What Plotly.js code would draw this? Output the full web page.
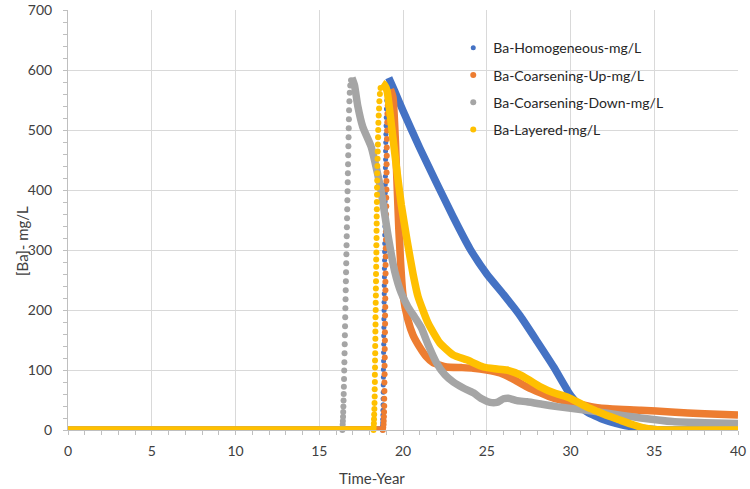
<!DOCTYPE html>
<html>
<head>
<meta charset="utf-8">
<script src="https://cdn.plot.ly/plotly-3.0.1.min.js"></script>
<style>html,body{margin:0;padding:0;background:#fff;}#chart{width:750px;height:489px;}</style>
</head>
<body>
<div id="chart"></div>
<script>
// ---- Series names & colours ----
const seriesNames = ["Ba-Homogeneous-mg/L", "Ba-Coarsening-Up-mg/L", "Ba-Coarsening-Down-mg/L", "Ba-Layered-mg/L"];
const seriesColors = ["#4472C4", "#ED7D31", "#A5A5A5", "#FFC000"];

// ---- Ba-Homogeneous ----
const homRiseT = [18.76,18.77,18.78,18.79,18.79,18.80,18.80,18.81,18.81,18.82,
  18.82,18.83,18.83,18.84,18.84,18.85,18.85,18.86,18.86,18.87,
  18.87,18.88,18.88,18.89,18.89,18.90,18.90,18.91,18.91,18.92,
  18.92,18.93,18.93,18.94,18.94,18.95,18.95,18.96,18.96,18.97,
  18.98,18.99,19.00,19.01,19.03,19.05,19.08];
const homRiseV = [0,3,7,12,18,25,33,42,52,63,75,88,101,115,129,143,157,171,185,199,
  213,227,241,255,269,283,297,311,325,339,353,367,381,395,409,423,437,451,465,479,
  493,507,521,535,549,563,575];
const homFallT = [19.15,19.5,20,21,22,23,24,25,26,27,28,29,30,30.5,31,32,33,34,35,36,40];
const homFallV = [587,565,532,470,412,355,302,260,226,190,148,105,58,42,30,17,9,4,1,0,0];

// ---- Ba-Coarsening-Up ----
const cupRiseT = [18.80,18.82,18.84,18.85,18.86,18.87,18.88,18.88,18.89,18.89,
  18.90,18.90,18.91,18.91,18.92,18.92,18.93,18.93,18.94,18.94,
  18.95,18.95,18.96,18.96,18.97,18.97,18.98,18.98,18.99,18.99,
  19.00,19.00,19.01,19.01,19.02,19.02,19.03,19.03,19.04,19.05,
  19.06,19.07,19.09,19.12,19.16];
const cupRiseV = [0,4,9,15,22,30,40,52,65,79,93,107,121,135,149,163,177,191,205,219,
  233,247,261,275,289,303,317,331,345,359,373,387,401,415,429,443,457,471,485,499,
  513,527,541,553,562];
const cupFallT = [19.25,19.4,19.55,19.75,20.0,20.3,20.6,21.0,21.4,21.8,22.6,23.5,24.2,25.0,25.8,26.5,27.4,28.2,29.0,30.2,31.4,32.5,34.2,36.0,38.0,40.0];
const cupFallV = [568,555,480,335,225,183,158,138,122,112,105,104,103,100,95,86,72,62,53,45,38,35,33,30,27,25];

// ---- Ba-Coarsening-Down ----
const cdnRiseT = [16.38,16.39,16.40,16.41,16.42,16.43,16.44,16.45,16.46,16.47,
  16.48,16.49,16.50,16.51,16.52,16.53,16.54,16.55,16.56,16.57,
  16.58,16.59,16.60,16.61,16.62,16.63,16.64,16.65,16.66,16.67,
  16.68,16.69,16.70,16.71,16.72,16.73,16.74,16.75,16.76,16.77,
  16.78,16.80,16.82,16.85,16.90];
const cdnRiseV = [0,4,9,15,22,30,39,49,60,72,85,99,113,128,143,158,173,188,203,218,
  233,248,263,278,293,308,323,338,353,368,383,398,413,428,443,458,473,488,503,518,
  533,548,562,574,583];
const cdnFallT = [16.95,17.1,17.3,17.6,18.1,18.65,19.1,19.5,19.9,20.3,20.7,21.1,21.5,22.0,22.5,23.0,23.6,24.2,24.7,25.2,25.6,26.0,26.3,26.8,27.4,28.3,29.2,30.6,32.2,34.2,36.1,38.0,40.0];
const cdnFallV = [587,575,540,505,472,405,325,265,228,205,188,170,142,112,92,80,70,62,52,46,46,52,53,49,47,43,39,34,28,20,14,12,11];

// ---- Ba-Layered ----
const layRiseT = [18.24,18.25,18.26,18.27,18.28,18.29,18.30,18.31,18.31,18.32,
  18.32,18.33,18.33,18.34,18.34,18.35,18.35,18.36,18.36,18.37,
  18.37,18.38,18.38,18.39,18.39,18.40,18.40,18.41,18.41,18.42,
  18.42,18.43,18.43,18.44,18.44,18.45,18.45,18.46,18.46,18.47,
  18.48,18.49,18.50,18.51,18.52,18.53,18.55,18.57,18.59,18.62,18.66];
const layRiseV = [0,5,11,18,26,35,45,56,68,80,92,104,116,128,140,152,164,176,188,200,
  212,224,236,248,260,272,284,296,308,320,332,344,356,368,380,392,404,416,428,440,
  452,464,476,488,500,512,524,536,548,560,570];
const layFallT = [18.76,18.9,19.05,19.3,19.6,19.9,20.25,20.6,20.9,21.5,22.2,23.0,23.8,24.8,25.5,26.2,27.0,27.6,28.2,29.0,29.8,30.4,31.0,31.6,32.2,32.9,33.6,34.3,35,36,40];
const layFallV = [578,575,565,510,440,375,315,260,222,178,145,125,117,105,102,100,92,82,72,62,55,47,38,31,24,17,10,4,1,0,0];

// ---- Axis ticks ----
const xTickVals = [0,5,10,15,20,25,30,35,40];
const yTickVals = [0,100,200,300,400,500,600,700];

const data = [
  [homRiseT, homRiseV, homFallT, homFallV, 5],
  [cupRiseT, cupRiseV, cupFallT, cupFallV, 6],
  [cdnRiseT, cdnRiseV, cdnFallT, cdnFallV, 6],
  [layRiseT, layRiseV, layFallT, layFallV, 6]
];

const traces = [];
data.forEach((d, i) => {
  const [rt, rv, ft, fv, ms] = d;
  const name = seriesNames[i], color = seriesColors[i];
  traces.push({x: [0, rt[0]], y: [0, 0], mode: 'lines', line: {color: color, width: 7.5},
    showlegend: false, legendgroup: name, hoverinfo: 'skip', cliponaxis: false});
  traces.push({x: rt, y: rv, mode: 'markers', marker: {color: color, size: ms},
    name: name, legendgroup: name, cliponaxis: false});
  traces.push({x: ft, y: fv, mode: 'lines', line: {color: color, width: 7.5, shape: 'spline', smoothing: 0.5},
    showlegend: false, legendgroup: name, cliponaxis: false});
});

const font = "Lato, 'Liberation Sans', sans-serif";
const layout = {
  width: 750, height: 489,
  margin: {l: 68, r: 12, t: 10, b: 59},
  paper_bgcolor: '#ffffff', plot_bgcolor: '#ffffff',
  font: {family: font, size: 14, color: '#404040'},
  showlegend: true,
  legend: {x: 0.575, y: 0.947, xanchor: 'left', yanchor: 'top', bgcolor: 'rgba(0,0,0,0)',
    font: {family: font, size: 14, color: '#262626'}, traceorder: 'grouped', tracegroupgap: 6},
  xaxis: {range: [0, 40], tickvals: xTickVals, ticktext: xTickVals.map(String),
    showgrid: true, gridcolor: '#d9d9d9', gridwidth: 1, zeroline: false,
    showline: true, linecolor: '#bfbfbf', linewidth: 1,
    ticks: 'outside', ticklen: 4, tickcolor: '#bfbfbf',
    minor: {dtick: 1, ticks: 'outside', ticklen: 4, tickcolor: '#bfbfbf', showgrid: false},
    tickfont: {family: font, size: 14, color: '#404040'}, ticklabelstandoff: 4, fixedrange: true},
  yaxis: {range: [0, 700], tickvals: yTickVals, ticktext: yTickVals.map(String),
    showgrid: true, gridcolor: '#d9d9d9', gridwidth: 1, zeroline: false,
    showline: true, linecolor: '#bfbfbf', linewidth: 1,
    ticks: 'outside', ticklen: 4, tickcolor: '#bfbfbf',
    minor: {dtick: 20, ticks: 'outside', ticklen: 4, tickcolor: '#bfbfbf', showgrid: false},
    tickfont: {family: font, size: 14, color: '#404040'}, ticklabelstandoff: 8, fixedrange: true},
  annotations: [
    {text: '[Ba]- mg/L', xref: 'paper', yref: 'paper', x: (22 - 68) / 670, y: (430 - 241) / 420,
      xanchor: 'center', yanchor: 'middle', textangle: -90, showarrow: false,
      font: {family: font, size: 15, color: '#404040'}},
    {text: 'Time-Year', xref: 'paper', yref: 'paper', x: (372 - 68) / 670, y: (430 - 478) / 420,
      xanchor: 'center', yanchor: 'middle', showarrow: false,
      font: {family: font, size: 15, color: '#404040'}}
  ]
};

Plotly.newPlot('chart', traces, layout, {displayModeBar: false, staticPlot: true});
</script>
</body>
</html>
